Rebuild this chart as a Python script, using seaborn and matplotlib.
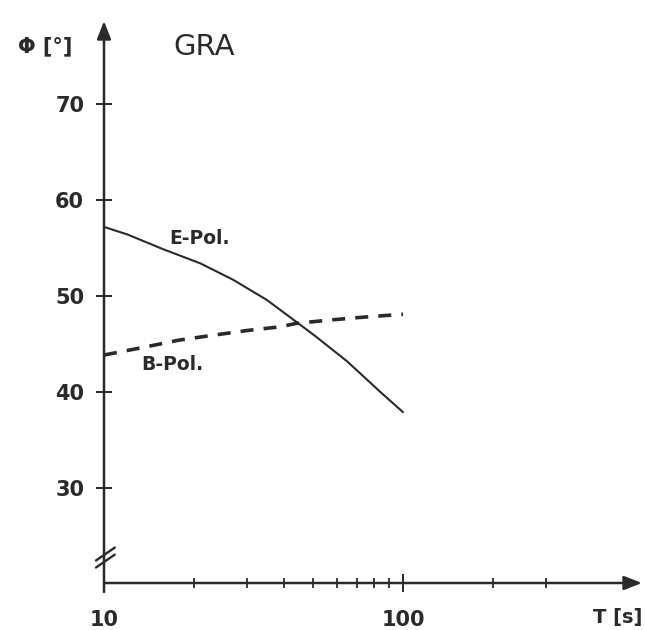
import numpy as np
import pandas as pd
import matplotlib
matplotlib.use("Agg")
import matplotlib.pyplot as plt
import seaborn as sns

# ---- data ----
period_e = [10, 12, 15.7, 21, 27, 35, 44, 51, 65, 84, 100]
phase_e = [57.2, 56.4, 54.9, 53.4, 51.7, 49.6, 47.3, 45.8, 43.2, 40.0, 37.9]

period_b = [10, 13.8, 17.8, 23, 30, 39, 44, 57, 74, 100]
phase_b = [43.85, 44.7, 45.4, 45.9, 46.4, 46.8, 47.15, 47.5, 47.8, 48.1]

y_ticks = [30, 40, 50, 60, 70]
x_major = [10, 100]
x_major_labels = ["10", "100"]
x_minor = [20, 30, 40, 50, 60, 70, 80, 90, 200, 300]

station = "GRA"
label_e = "E-Pol."
label_b = "B-Pol."
x_title = "T [s]"
y_title = "Φ [°]"

INK = "#2a2a2a"

sns.set_theme(style="white")
plt.rcParams["font.family"] = ["DejaVu Sans"]
plt.rcParams["text.color"] = INK
plt.rcParams["xtick.color"] = INK
plt.rcParams["ytick.color"] = INK

fig = plt.figure(figsize=(6.45, 6.3), dpi=100)
fig.patch.set_facecolor("white")
# origin at pixel (104, 583); arrow tips at (104, 21) and (642, 583)
ax = fig.add_axes([104 / 645, (630 - 583) / 630, (642 - 104) / 645, (583 - 21) / 630])
ax.set_facecolor("white")

df_e = pd.DataFrame({"T": period_e, "phi": phase_e})
df_b = pd.DataFrame({"T": period_b, "phi": phase_b})

sns.lineplot(data=df_e, x="T", y="phi", ax=ax, color=INK, lw=1.5, sort=False)
sns.lineplot(data=df_b, x="T", y="phi", ax=ax, color=INK, lw=2.6, sort=False)
ax.lines[-1].set_dashes((3.6, 2.8))

ax.set_xscale("log")
ax.set_xlim(10, 630)
ax.set_ylim(20.1, 78.65)

for s in ax.spines.values():
    s.set_visible(False)

# axes with arrows
arrow = dict(arrowstyle="-|>,head_length=0.9,head_width=0.35", lw=1.8,
             color=INK, mutation_scale=12, shrinkA=0, shrinkB=0)
ax.annotate("", xy=(1, 0), xytext=(0, 0), xycoords="axes fraction",
            textcoords="axes fraction", arrowprops=arrow, annotation_clip=False)
ax.annotate("", xy=(0, 1), xytext=(0, -0.016), xycoords="axes fraction",
            textcoords="axes fraction", arrowprops=arrow, annotation_clip=False)

# axis break marks
for dy in (0.0, 0.0125):
    ax.plot([-0.015, 0.020], [0.040 - dy, 0.063 - dy], transform=ax.transAxes,
            color=INK, lw=1.7, clip_on=False)

# ticks
ax.set_yticks(y_ticks)
ax.set_yticklabels([str(v) for v in y_ticks])
ax.tick_params(axis="y", which="major", direction="inout", length=11.5, width=1.4,
               pad=8.5, labelsize=15, left=True)
ax.set_xticks(x_major)
ax.set_xticklabels(x_major_labels)
ax.set_xticks(x_minor, minor=True)
ax.set_xticklabels([], minor=True)
ax.tick_params(axis="x", which="major", direction="inout", length=13.5, width=1.4,
               pad=13, labelsize=15, bottom=True)
ax.tick_params(axis="x", which="minor", direction="inout", length=7, width=1.3,
               bottom=True)
for lab in ax.get_xticklabels() + ax.get_yticklabels():
    lab.set_fontweight("bold")

ax.set_xlabel("")
ax.set_ylabel("")
ax.text(0.955, -0.062, x_title, transform=ax.transAxes, ha="center", va="center",
        fontsize=14, fontweight="bold")
ax.text(-0.110, 0.955, y_title, transform=ax.transAxes, ha="center", va="center",
        fontsize=15, fontweight="bold")
ax.text(0.186, 0.954, station, transform=ax.transAxes, ha="center", va="center",
        fontsize=21)

ax.text(20.8, 56.0, label_e, ha="center", va="center", fontsize=13.5, fontweight="bold")
ax.text(16.9, 42.9, label_b, ha="center", va="center", fontsize=13.5, fontweight="bold")

fig.savefig("out.png", dpi=100, facecolor="white")
